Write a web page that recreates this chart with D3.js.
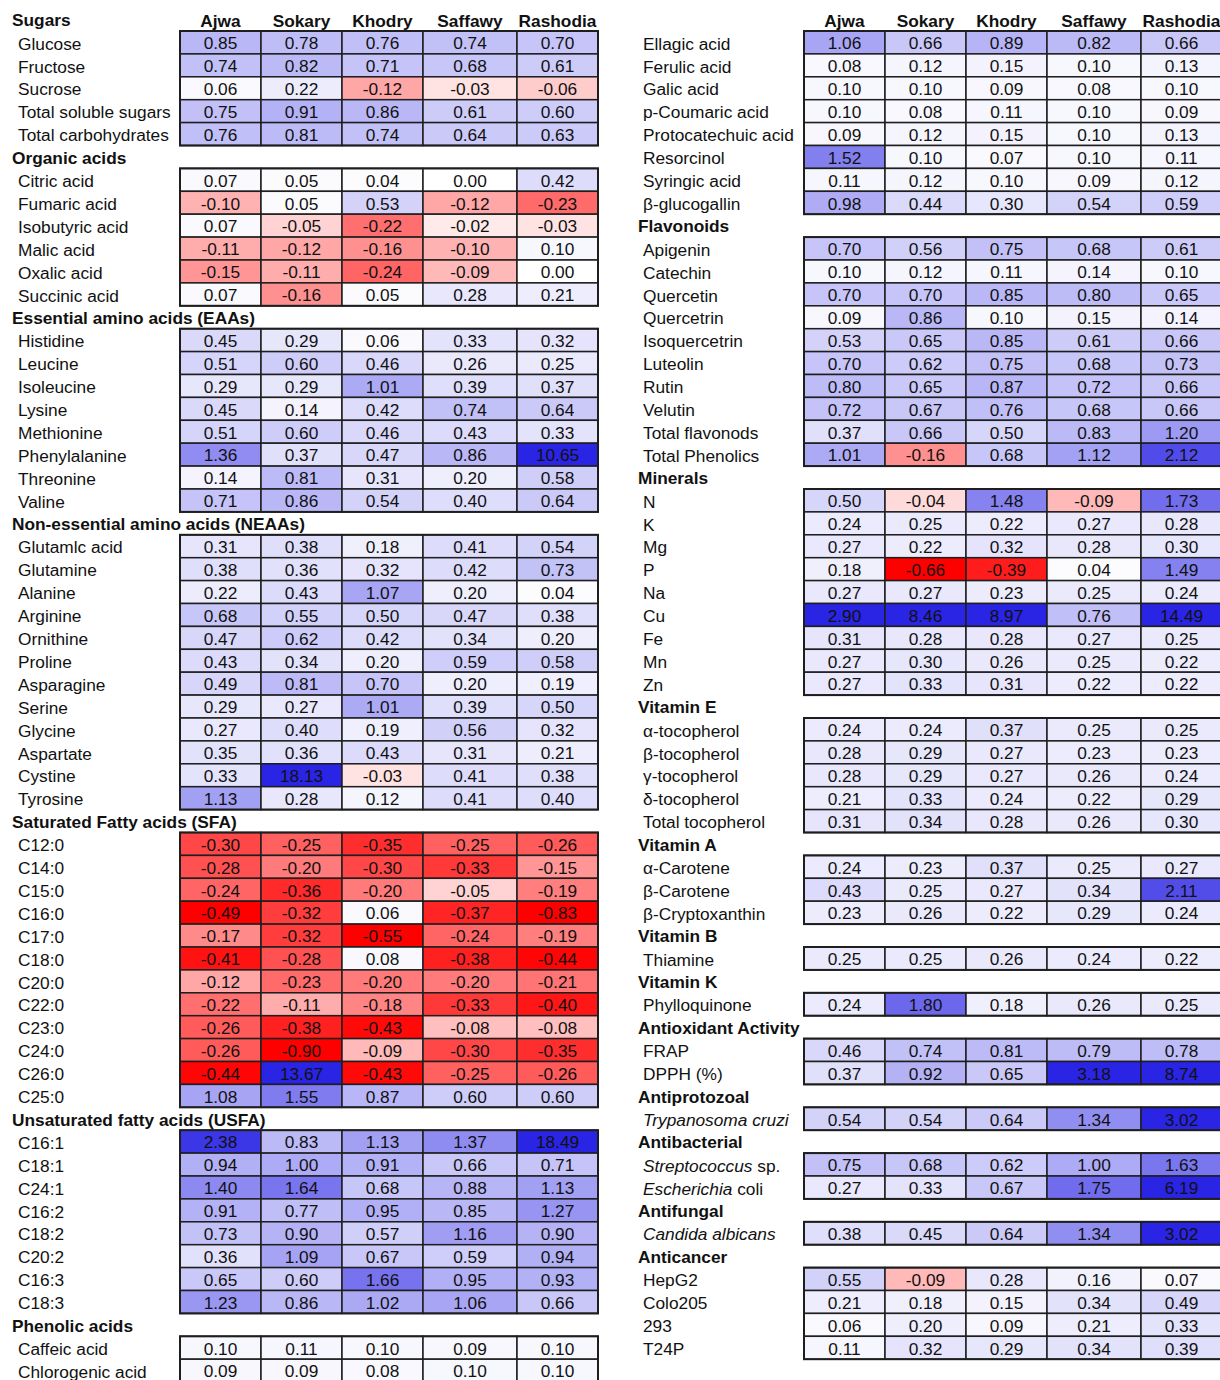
<!DOCTYPE html>
<html>
<head>
<meta charset="utf-8">
<script src="https://cdn.jsdelivr.net/npm/d3@7"></script>
<style>
  html, body { margin: 0; padding: 0; background: #fff; }
  svg { display: block; font-family: "Liberation Sans", Arial, Helvetica, sans-serif; }
</style>
</head>
<body>
<svg id="chart" width="1220" height="1380"></svg>
<script>
// Date varieties (columns)
const varieties = ["Ajwa", "Sokary", "Khodry", "Saffawy", "Rashodia"];

// Row groups: [label, values per variety]. Text between underscores is set in italics.
const sugars = [
  ["Glucose", [0.85, 0.78, 0.76, 0.74, 0.70]],
  ["Fructose", [0.74, 0.82, 0.71, 0.68, 0.61]],
  ["Sucrose", [0.06, 0.22, -0.12, -0.03, -0.06]],
  ["Total soluble sugars", [0.75, 0.91, 0.86, 0.61, 0.60]],
  ["Total carbohydrates", [0.76, 0.81, 0.74, 0.64, 0.63]]
];
const organicAcids = [
  ["Citric acid", [0.07, 0.05, 0.04, 0.00, 0.42]],
  ["Fumaric acid", [-0.10, 0.05, 0.53, -0.12, -0.23]],
  ["Isobutyric  acid", [0.07, -0.05, -0.22, -0.02, -0.03]],
  ["Malic acid", [-0.11, -0.12, -0.16, -0.10, 0.10]],
  ["Oxalic acid", [-0.15, -0.11, -0.24, -0.09, 0.00]],
  ["Succinic acid", [0.07, -0.16, 0.05, 0.28, 0.21]]
];
const essentialAA = [
  ["Histidine", [0.45, 0.29, 0.06, 0.33, 0.32]],
  ["Leucine", [0.51, 0.60, 0.46, 0.26, 0.25]],
  ["Isoleucine", [0.29, 0.29, 1.01, 0.39, 0.37]],
  ["Lysine", [0.45, 0.14, 0.42, 0.74, 0.64]],
  ["Methionine", [0.51, 0.60, 0.46, 0.43, 0.33]],
  ["Phenylalanine", [1.36, 0.37, 0.47, 0.86, 10.65]],
  ["Threonine", [0.14, 0.81, 0.31, 0.20, 0.58]],
  ["Valine", [0.71, 0.86, 0.54, 0.40, 0.64]]
];
const nonEssentialAA = [
  ["Glutamlc acid", [0.31, 0.38, 0.18, 0.41, 0.54]],
  ["Glutamine", [0.38, 0.36, 0.32, 0.42, 0.73]],
  ["Alanine", [0.22, 0.43, 1.07, 0.20, 0.04]],
  ["Arginine", [0.68, 0.55, 0.50, 0.47, 0.38]],
  ["Ornithine", [0.47, 0.62, 0.42, 0.34, 0.20]],
  ["Proline", [0.43, 0.34, 0.20, 0.59, 0.58]],
  ["Asparagine", [0.49, 0.81, 0.70, 0.20, 0.19]],
  ["Serine", [0.29, 0.27, 1.01, 0.39, 0.50]],
  ["Glycine", [0.27, 0.40, 0.19, 0.56, 0.32]],
  ["Aspartate", [0.35, 0.36, 0.43, 0.31, 0.21]],
  ["Cystine", [0.33, 18.13, -0.03, 0.41, 0.38]],
  ["Tyrosine", [1.13, 0.28, 0.12, 0.41, 0.40]]
];
const saturatedFA = [
  ["C12:0", [-0.30, -0.25, -0.35, -0.25, -0.26]],
  ["C14:0", [-0.28, -0.20, -0.30, -0.33, -0.15]],
  ["C15:0", [-0.24, -0.36, -0.20, -0.05, -0.19]],
  ["C16:0", [-0.49, -0.32, 0.06, -0.37, -0.83]],
  ["C17:0", [-0.17, -0.32, -0.55, -0.24, -0.19]],
  ["C18:0", [-0.41, -0.28, 0.08, -0.38, -0.44]],
  ["C20:0", [-0.12, -0.23, -0.20, -0.20, -0.21]],
  ["C22:0", [-0.22, -0.11, -0.18, -0.33, -0.40]],
  ["C23:0", [-0.26, -0.38, -0.43, -0.08, -0.08]],
  ["C24:0", [-0.26, -0.90, -0.09, -0.30, -0.35]],
  ["C26:0", [-0.44, 13.67, -0.43, -0.25, -0.26]],
  ["C25:0", [1.08, 1.55, 0.87, 0.60, 0.60]]
];
const unsaturatedFA = [
  ["C16:1", [2.38, 0.83, 1.13, 1.37, 18.49]],
  ["C18:1", [0.94, 1.00, 0.91, 0.66, 0.71]],
  ["C24:1", [1.40, 1.64, 0.68, 0.88, 1.13]],
  ["C16:2", [0.91, 0.77, 0.95, 0.85, 1.27]],
  ["C18:2", [0.73, 0.90, 0.57, 1.16, 0.90]],
  ["C20:2", [0.36, 1.09, 0.67, 0.59, 0.94]],
  ["C16:3", [0.65, 0.60, 1.66, 0.95, 0.93]],
  ["C18:3", [1.23, 0.86, 1.02, 1.06, 0.66]]
];
const phenolicAcids = [
  ["Caffeic acid", [0.10, 0.11, 0.10, 0.09, 0.10]],
  ["Chlorogenic acid", [0.09, 0.09, 0.08, 0.10, 0.10]],
  ["Ellagic acid", [1.06, 0.66, 0.89, 0.82, 0.66]],
  ["Ferulic acid", [0.08, 0.12, 0.15, 0.10, 0.13]],
  ["Galic acid", [0.10, 0.10, 0.09, 0.08, 0.10]],
  ["p-Coumaric acid", [0.10, 0.08, 0.11, 0.10, 0.09]],
  ["Protocatechuic acid", [0.09, 0.12, 0.15, 0.10, 0.13]],
  ["Resorcinol", [1.52, 0.10, 0.07, 0.10, 0.11]],
  ["Syringic acid", [0.11, 0.12, 0.10, 0.09, 0.12]],
  ["β-glucogallin", [0.98, 0.44, 0.30, 0.54, 0.59]]
];
const flavonoids = [
  ["Apigenin", [0.70, 0.56, 0.75, 0.68, 0.61]],
  ["Catechin", [0.10, 0.12, 0.11, 0.14, 0.10]],
  ["Quercetin", [0.70, 0.70, 0.85, 0.80, 0.65]],
  ["Quercetrin", [0.09, 0.86, 0.10, 0.15, 0.14]],
  ["Isoquercetrin", [0.53, 0.65, 0.85, 0.61, 0.66]],
  ["Luteolin", [0.70, 0.62, 0.75, 0.68, 0.73]],
  ["Rutin", [0.80, 0.65, 0.87, 0.72, 0.66]],
  ["Velutin", [0.72, 0.67, 0.76, 0.68, 0.66]],
  ["Total flavonods", [0.37, 0.66, 0.50, 0.83, 1.20]],
  ["Total Phenolics", [1.01, -0.16, 0.68, 1.12, 2.12]]
];
const minerals = [
  ["N", [0.50, -0.04, 1.48, -0.09, 1.73]],
  ["K", [0.24, 0.25, 0.22, 0.27, 0.28]],
  ["Mg", [0.27, 0.22, 0.32, 0.28, 0.30]],
  ["P", [0.18, -0.66, -0.39, 0.04, 1.49]],
  ["Na", [0.27, 0.27, 0.23, 0.25, 0.24]],
  ["Cu", [2.90, 8.46, 8.97, 0.76, 14.49]],
  ["Fe", [0.31, 0.28, 0.28, 0.27, 0.25]],
  ["Mn", [0.27, 0.30, 0.26, 0.25, 0.22]],
  ["Zn", [0.27, 0.33, 0.31, 0.22, 0.22]]
];
const vitaminE = [
  ["α-tocopherol", [0.24, 0.24, 0.37, 0.25, 0.25]],
  ["β-tocopherol", [0.28, 0.29, 0.27, 0.23, 0.23]],
  ["γ-tocopherol", [0.28, 0.29, 0.27, 0.26, 0.24]],
  ["δ-tocopherol", [0.21, 0.33, 0.24, 0.22, 0.29]],
  ["Total tocopherol", [0.31, 0.34, 0.28, 0.26, 0.30]]
];
const vitaminA = [
  ["α-Carotene", [0.24, 0.23, 0.37, 0.25, 0.27]],
  ["β-Carotene", [0.43, 0.25, 0.27, 0.34, 2.11]],
  ["β-Cryptoxanthin", [0.23, 0.26, 0.22, 0.29, 0.24]]
];
const vitaminB = [
  ["Thiamine", [0.25, 0.25, 0.26, 0.24, 0.22]]
];
const vitaminK = [
  ["Phylloquinone", [0.24, 1.80, 0.18, 0.26, 0.25]]
];
const antioxidant = [
  ["FRAP", [0.46, 0.74, 0.81, 0.79, 0.78]],
  ["DPPH (%)", [0.37, 0.92, 0.65, 3.18, 8.74]]
];
const antiprotozoal = [
  ["_Trypanosoma cruzi_", [0.54, 0.54, 0.64, 1.34, 3.02]]
];
const antibacterial = [
  ["_Streptococcus_ sp.", [0.75, 0.68, 0.62, 1.00, 1.63]],
  ["_Escherichia_ coli", [0.27, 0.33, 0.67, 1.75, 6.19]]
];
const antifungal = [
  ["_Candida albicans_", [0.38, 0.45, 0.64, 1.34, 3.02]]
];
const anticancer = [
  ["HepG2", [0.55, -0.09, 0.28, 0.16, 0.07]],
  ["Colo205", [0.21, 0.18, 0.15, 0.34, 0.49]],
  ["293", [0.06, 0.20, 0.09, 0.21, 0.33]],
  ["T24P", [0.11, 0.32, 0.29, 0.34, 0.39]]
];

// ---- layout ----
const W = 1220, H = 1380;
const rowH = 22.9;
const rowTop0 = 8.1;             // top of line 0
const fontSize = 17.3;
const colWidths = [81, 81, 81, 94, 81];
const colStart = d3.cumsum([0, ...colWidths.slice(0, -1)]);
const panels = [
  { x: 0, cellX: 180, headX: 12, labelX: 18, lines: [] },
  { x: 624, cellX: 804, headX: 638, labelX: 643, lines: [] }
];

function addGroup(panel, title, rows) {
  if (title !== undefined) panel.lines.push({ type: "head", title });
  rows.forEach((r, i) => panel.lines.push({ type: "row", label: r[0], values: r[1], first: i === 0 }));
}

// left panel
panels[0].lines.push({ type: "head", title: "Sugars", columns: true });
addGroup(panels[0], undefined, sugars);
addGroup(panels[0], "Organic acids", organicAcids);
addGroup(panels[0], "Essential amino acids (EAAs)", essentialAA);
addGroup(panels[0], "Non-essential amino acids (NEAAs)", nonEssentialAA);
addGroup(panels[0], "Saturated Fatty acids (SFA)", saturatedFA);
addGroup(panels[0], "Unsaturated fatty acids (USFA)", unsaturatedFA);
addGroup(panels[0], "Phenolic acids", phenolicAcids.slice(0, 2));
// right panel (phenolic acids continue)
panels[1].lines.push({ type: "head", title: "", columns: true });
addGroup(panels[1], undefined, phenolicAcids.slice(2));
addGroup(panels[1], "Flavonoids", flavonoids);
addGroup(panels[1], "Minerals", minerals);
addGroup(panels[1], "Vitamin E", vitaminE);
addGroup(panels[1], "Vitamin A", vitaminA);
addGroup(panels[1], "Vitamin B", vitaminB);
addGroup(panels[1], "Vitamin K", vitaminK);
addGroup(panels[1], "Antioxidant Activity", antioxidant);
addGroup(panels[1], "Antiprotozoal", antiprotozoal);
addGroup(panels[1], "Antibacterial", antibacterial);
addGroup(panels[1], "Antifungal", antifungal);
addGroup(panels[1], "Anticancer", anticancer);

const y = d3.scaleLinear().domain([0, 1]).range([rowTop0, rowTop0 + rowH]);

// diverging fill: white at zero, red for negatives, blue for positives
const blueScale = d3.scaleLinear().domain([0, 2.6]).range(["#ffffff", "#2a24e4"]).clamp(true);
const redScale = d3.scalePow().exponent(0.8).domain([0, 0.45]).range(["#ffffff", "#ff0000"]).clamp(true);
const fillFor = v => v >= 0 ? blueScale(v) : redScale(-v);

const fmt = d3.formatLocale({ decimal: ".", thousands: ",", grouping: [3], currency: ["", ""], minus: "-" }).format(".2f");

const svg = d3.select("#chart").attr("viewBox", `0 0 ${W} ${H}`);
const textColor = "#111";
const lineColor = "#1e1e1e";

function setLabel(sel, label) {
  const parts = label.split(/(_[^_]+_)/).filter(s => s.length);
  parts.forEach(p => {
    const it = p.startsWith("_") && p.endsWith("_");
    sel.append("tspan")
      .attr("font-style", it ? "italic" : "normal")
      .text(it ? p.slice(1, -1) : p);
  });
}

panels.forEach(panel => {
  const g = svg.append("g");
  const tableW = d3.sum(colWidths);

  // blocks of consecutive rows get an outer frame
  const blocks = [];
  panel.lines.forEach((ln, i) => {
    ln.index = i;
    if (ln.type === "row") {
      const last = blocks[blocks.length - 1];
      if (last && last.end === i - 1) last.end = i;
      else blocks.push({ start: i, end: i });
    }
  });

  panel.lines.forEach(ln => {
    const top = y(ln.index);
    const mid = top + rowH / 2 + 2.2;
    if (ln.type === "head") {
      if (ln.title) {
        g.append("text").attr("x", panel.headX).attr("y", mid)
          .attr("dominant-baseline", "middle")
          .attr("font-size", fontSize).attr("font-weight", "bold").attr("fill", textColor)
          .text(ln.title);
      }
      if (ln.columns) {
        g.selectAll(null).data(varieties).join("text")
          .attr("x", (d, j) => panel.cellX + colStart[j] + colWidths[j] / 2)
          .attr("y", mid + 0.8)
          .attr("text-anchor", "middle").attr("dominant-baseline", "middle")
          .attr("font-size", fontSize).attr("font-weight", "bold").attr("fill", textColor)
          .text(d => d);
      }
    } else {
      const t = g.append("text").attr("x", panel.labelX).attr("y", mid)
        .attr("dominant-baseline", "middle").attr("font-size", fontSize).attr("fill", textColor);
      setLabel(t, ln.label);

      const cells = g.selectAll(null).data(ln.values.map((v, j) => ({ v, j }))).join("g");
      cells.append("rect")
        .attr("x", d => panel.cellX + colStart[d.j])
        .attr("y", top)
        .attr("width", d => colWidths[d.j])
        .attr("height", rowH)
        .attr("fill", d => fillFor(d.v))
        .attr("stroke", lineColor).attr("stroke-width", 1.5);
      cells.append("text")
        .attr("x", d => panel.cellX + colStart[d.j] + colWidths[d.j] / 2)
        .attr("y", mid)
        .attr("text-anchor", "middle").attr("dominant-baseline", "middle")
        .attr("font-size", fontSize).attr("fill", textColor)
        .text(d => fmt(d.v));
    }
  });

  g.selectAll(null).data(blocks).join("rect")
    .attr("x", panel.cellX)
    .attr("y", d => y(d.start))
    .attr("width", tableW)
    .attr("height", d => (d.end - d.start + 1) * rowH)
    .attr("fill", "none").attr("stroke", lineColor).attr("stroke-width", 2);
});
</script>
</body>
</html>
